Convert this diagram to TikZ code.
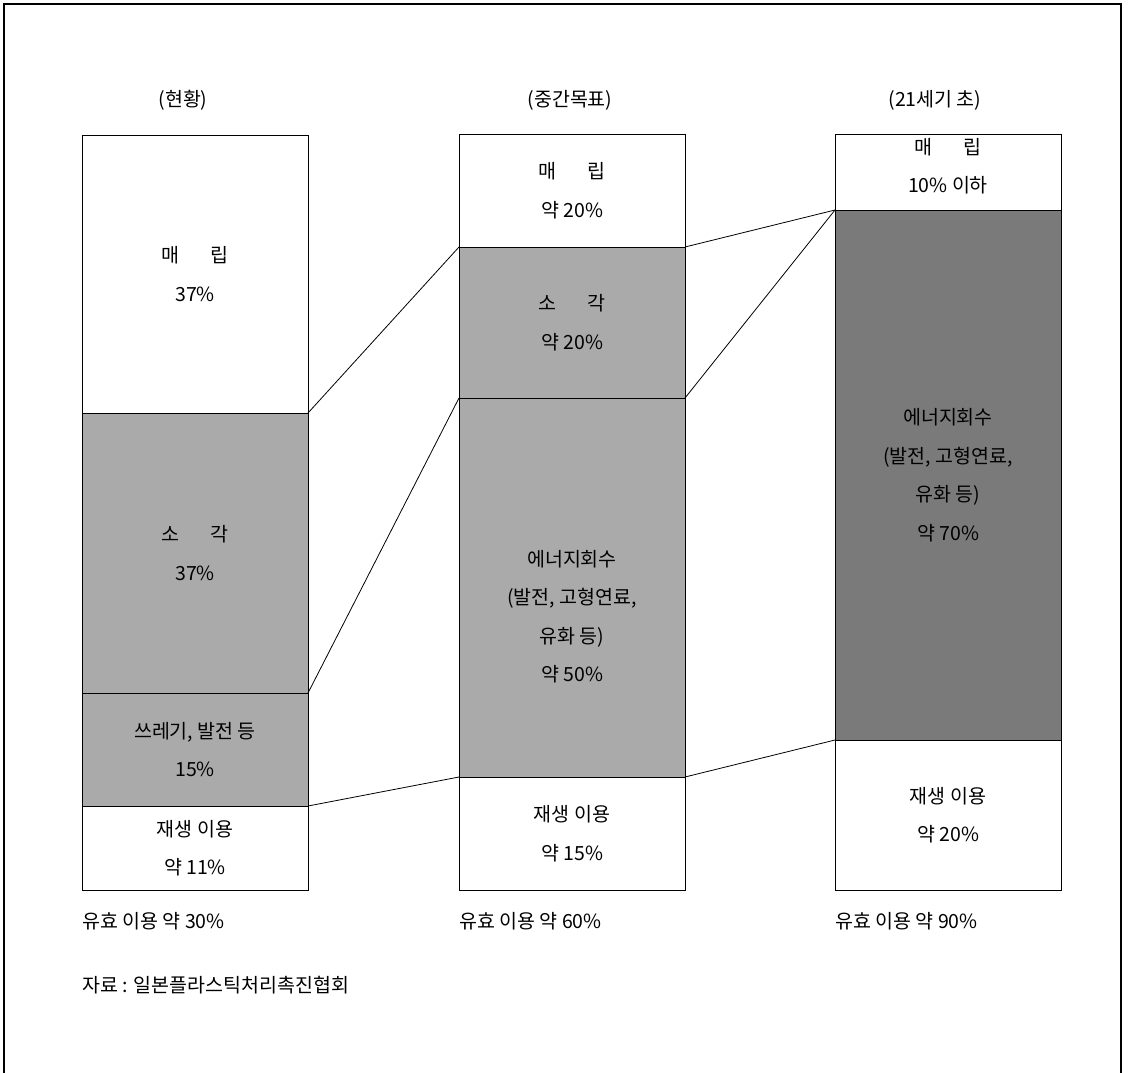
\documentclass[tikz,border=0pt]{standalone}
\usepackage{fontspec}
\setmainfont{Noto Sans CJK KR}
\definecolor{shadeA}{RGB}{170,170,170}
\definecolor{shadeB}{RGB}{122,122,122}
\begin{document}
\begin{tikzpicture}[x=1pt,y=-1pt,
  txt/.style={font=\fontsize{19.5}{38.5}\selectfont, align=center, text=black, inner sep=0pt},
  seg/.style={draw=black, line width=0.9pt, anchor=north west, minimum width=226pt, inner sep=0pt, outer sep=0pt},
  plain/.style={seg, fill=white},
  lite/.style={seg, fill=shadeA},
  dark/.style={seg, fill=shadeB},
  link/.style={draw=black, line width=0.8pt}]
\useasboundingbox (0,0) rectangle (1128,1072);
\fill[white] (0,0) rectangle (1128,1072);
% frame
\coordinate (fbl) at (4,1075);
\coordinate (ftl) at (4,4);
\coordinate (ftr) at (1121,4);
\coordinate (fbr) at (1121,1075);
\draw[line width=1.2pt] (fbl) -- (ftl) -- (ftr) -- (fbr);
% titles
\node[txt] (t1) at (183,100) {(현황)};
\node[txt] (t2) at (570,100) {(중간목표)};
\node[txt] (t3) at (935,100) {(21세기 초)};
% column 1
\node[plain, minimum height=278pt] (a1) at (82,135) {};
\node[lite, minimum height=280pt] (a2) at (82,413) {};
\node[lite, minimum height=113pt] (a3) at (82,693) {};
\node[plain, minimum height=84pt] (a4) at (82,806) {};
\node[txt] (a1t) at (a1.center) {매\hspace{1.6em}립\\37\%};
\node[txt] (a2t) at (a2.center) {소\hspace{1.6em}각\\37\%};
\node[txt] (a3t) at (a3.center) {쓰레기, 발전 등\\15\%};
\node[txt] (a4t) at (a4.center) {재생 이용\\약 11\%};
% column 2
\node[plain, minimum height=113pt] (b1) at (459,134) {};
\node[lite, minimum height=151pt] (b2) at (459,247) {};
\node[lite, minimum height=379pt] (b3) at (459,398) {};
\node[plain, minimum height=113pt] (b4) at (459,777) {};
\node[txt] (b1t) at (b1.center) {매\hspace{1.6em}립\\약 20\%};
\node[txt] (b2t) at (b2.center) {소\hspace{1.6em}각\\약 20\%};
\node[txt] (b3t) at ([yshift=-29pt]b3.center) {에너지회수\\(발전, 고형연료,\\유화 등)\\약 50\%};
\node[txt] (b4t) at (b4.center) {재생 이용\\약 15\%};
% column 3
\node[plain, minimum height=76pt] (c1) at (835,134) {};
\node[dark, minimum height=530pt] (c2) at (835,210) {};
\node[plain, minimum height=150pt] (c3) at (835,740) {};
\node[txt] (c1t) at ([yshift=6pt]c1.center) {매\hspace{1.6em}립\\10\% 이하};
\node[txt] (c2t) at (c2.center) {에너지회수\\(발전, 고형연료,\\유화 등)\\약 70\%};
\node[txt] (c3t) at (c3.center) {재생 이용\\약 20\%};
% links
\draw[link] (a2.north east) -- (b2.north west);
\draw[link] (a3.north east) -- (b3.north west);
\draw[link] (a4.north east) -- (b4.north west);
\draw[link] (b2.north east) -- (c2.north west);
\draw[link] (b3.north east) -- (c2.north west);
\draw[link] (b4.north east) -- (c3.north west);
% bottom labels
\node[txt, anchor=west] (u1) at (82,921) {유효 이용 약 30\%};
\node[txt, anchor=west] (u2) at (459,921) {유효 이용 약 60\%};
\node[txt, anchor=west] (u3) at (835,921) {유효 이용 약 90\%};
\node[txt, anchor=west] (src) at (82,985) {자료 : 일본플라스틱처리촉진협회};
\end{tikzpicture}
\end{document}
